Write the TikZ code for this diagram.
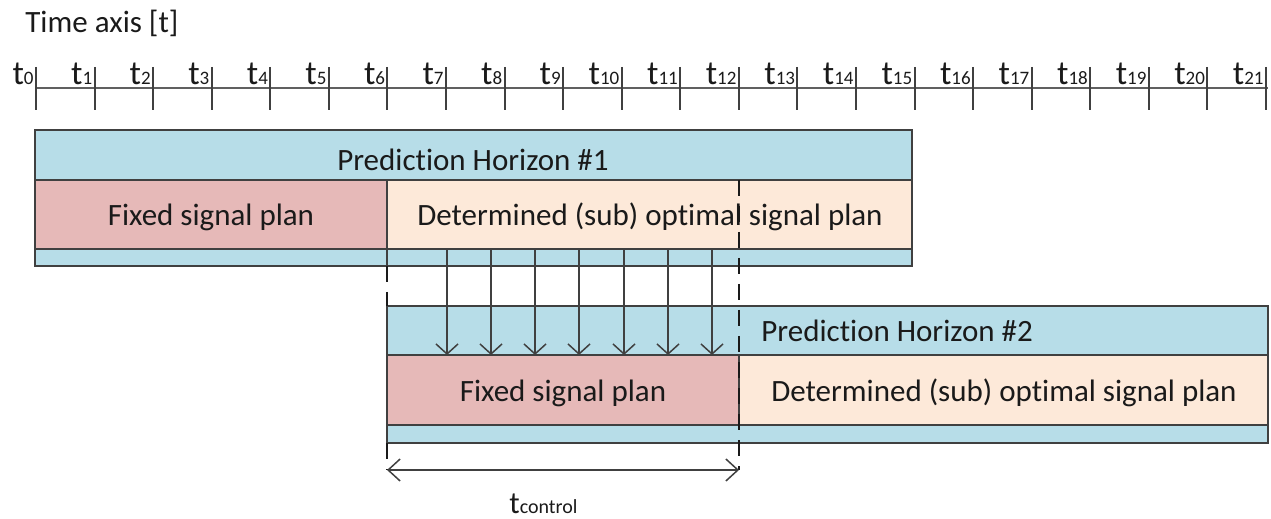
\documentclass[tikz,border=0pt]{standalone}
\usepackage{fontspec}
\setmainfont{Carlito}[Ligatures=NoCommon]
\usetikzlibrary{arrows.meta}
\definecolor{ink}{HTML}{1A1A1A}
\definecolor{frame}{HTML}{404040}
\definecolor{axisgray}{HTML}{606060}
\definecolor{bandblue}{HTML}{B7DDE8}
\definecolor{fixedpink}{HTML}{E6B9B8}
\definecolor{optpeach}{HTML}{FDE9D9}

\tikzset{
  boxtext/.style={font=\fontsize{15.5}{18}\selectfont,color=ink,inner sep=0pt},
  ticklabel/.style={color=ink,inner sep=0pt,anchor=base east},
  frameline/.style={draw=frame,line width=1pt},
  guide/.style={draw=ink,line width=1pt,dash pattern=on 8pt off 5pt},
  carry/.style={draw=frame,line width=0.75pt,-{Straight Barb[length=5pt,width=11pt]}},
  span/.style={draw=frame,line width=0.75pt,{Straight Barb[length=6pt,width=11pt]}-{Straight Barb[length=6pt,width=11pt]}}
}

\begin{document}
\begin{tikzpicture}[x=0.5pt,y=-0.5pt]
        \useasboundingbox (0,0) rectangle (1271,519);
        \node[boxtext,anchor=base west] (axislabel) at (25,33) {Time axis [t]};
        % time axis
        \draw[axisgray,line width=1.2pt] (36,88) -- (1268,88);
        \foreach \i in {0,...,21} {
          \pgfmathsetmacro\tx{36+58.57*\i}
          \draw[frame,line width=1pt] (\tx,67) -- (\tx,110);
          \node[ticklabel] (t\i) at (\tx-2,85)
            {{\fontsize{17}{20}\selectfont t}{\fontsize{9.5}{11}\selectfont\i}};
        }
        % prediction horizon 1
        \fill[bandblue] (35,130) rectangle (912,266);
        \fill[fixedpink] (35,180) rectangle (387,249);
        \fill[optpeach] (387,180) rectangle (912,249);
        \draw[frameline] (35,180) -- (912,180) (35,249) -- (912,249) (387,180) -- (387,266);
        \draw[frameline] (35,130) rectangle (912,266);
        \node[boxtext,anchor=base] (ph1) at (473,171) {Prediction Horizon \#1};
        \node[boxtext,anchor=base] (fix1) at (211,226) {Fixed signal plan};
        \node[boxtext,anchor=base] (det1) at (650,226) {Determined (sub) optimal signal plan};
        % prediction horizon 2
        \fill[bandblue] (387,306) rectangle (1268,443);
        \fill[fixedpink] (387,355) rectangle (739,425);
        \fill[optpeach] (739,355) rectangle (1268,425);
        \draw[frameline] (387,355) -- (1268,355) (387,425) -- (1268,425) (739,355) -- (739,425);
        \draw[frameline] (387,306) rectangle (1268,443);
        \node[boxtext,anchor=base west] (ph2) at (761,342) {Prediction Horizon \#2};
        \node[boxtext,anchor=base] (fix2) at (563,401) {Fixed signal plan};
        \node[boxtext,anchor=base] (det2) at (1004,401) {Determined (sub) optimal signal plan};
        % control interval
        \coordinate (ctlL) at (387,470);
        \coordinate (ctlR) at (739,470);
        \draw[guide] (387,266) -- (387,306);
        \draw[guide] (387,443) -- (ctlL);
        \draw[guide] (739,180) -- (ctlR);
        \draw[span] (ctlL) -- (ctlR);
        \node[inner sep=0pt,color=ink,anchor=base west] (tctl) at (509,513)
          {{\fontsize{15.5}{18}\selectfont t}{\fontsize{10}{12}\selectfont control}};
        % fixed part handed over
        \foreach \x [count=\k] in {447,491,535,579,624,668,712} {
          \coordinate (src\k) at (\x,249);
          \coordinate (dst\k) at (\x,355);
          \draw[carry] (src\k) -- (dst\k);
        }
      \end{tikzpicture}
\end{document}
